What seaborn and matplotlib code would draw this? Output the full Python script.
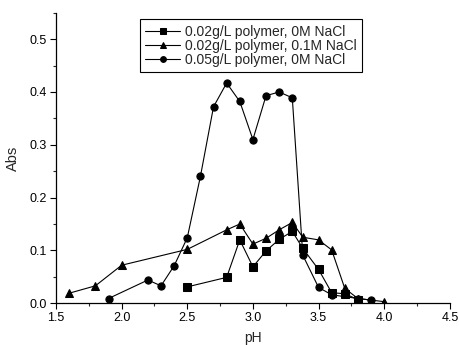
import matplotlib
matplotlib.use("Agg")
import matplotlib.pyplot as plt
import seaborn as sns
import pandas as pd
from matplotlib.ticker import MultipleLocator

sns.set_style("ticks")
plt.rcParams['font.family'] = ['Liberation Sans', 'DejaVu Sans']

labels = ["0.02g/L polymer, 0M NaCl", "0.02g/L polymer, 0.1M NaCl", "0.05g/L polymer, 0M NaCl"]

ph_sq = [2.5, 2.8, 2.9, 3.0, 3.1, 3.2, 3.3, 3.38, 3.5, 3.6, 3.7, 3.8]
abs_sq = [0.031, 0.049, 0.120, 0.069, 0.099, 0.121, 0.136, 0.104, 0.064, 0.020, 0.018, 0.007]

ph_tr = [1.6, 1.8, 2.0, 2.5, 2.8, 2.9, 3.0, 3.1, 3.2, 3.3, 3.38, 3.5, 3.6, 3.7, 3.8, 4.0]
abs_tr = [0.019, 0.033, 0.072, 0.102, 0.139, 0.150, 0.112, 0.123, 0.139, 0.153, 0.125, 0.120, 0.101, 0.028, 0.009, 0.003]

ph_ci = [1.9, 2.2, 2.3, 2.4, 2.5, 2.6, 2.7, 2.8, 2.9, 3.0, 3.1, 3.2, 3.3, 3.38, 3.5, 3.6, 3.8, 3.9]
abs_ci = [0.009, 0.044, 0.033, 0.071, 0.124, 0.240, 0.372, 0.417, 0.382, 0.310, 0.393, 0.400, 0.389, 0.091, 0.030, 0.016, 0.009, 0.006]

series = [(ph_sq, abs_sq, "s"), (ph_tr, abs_tr, "^"), (ph_ci, abs_ci, "o")]

fig = plt.figure(figsize=(4.59, 3.45), dpi=100)
ax = fig.add_axes([0.122, 0.121, 0.858, 0.842])

for (x, y, m), lab in zip(series, labels):
    df = pd.DataFrame({"pH": x, "Abs": y})
    sns.lineplot(data=df, x="pH", y="Abs", ax=ax, sort=False, color="black",
                 marker=m, markersize=5.2, markeredgecolor="black", linewidth=0.8,
                 label=lab)

ax.set_xlim(1.5, 4.5)
ax.set_ylim(0, 0.55)
ax.xaxis.set_major_locator(MultipleLocator(0.5))
ax.xaxis.set_minor_locator(MultipleLocator(0.25))
ax.yaxis.set_major_locator(MultipleLocator(0.1))
ax.yaxis.set_minor_locator(MultipleLocator(0.05))
ax.tick_params(which="major", direction="out", length=4, width=0.8, labelsize=9, colors="black", pad=2.5)
ax.tick_params(which="minor", direction="out", length=2.5, width=0.8)
for s in ["top", "right"]:
    ax.spines[s].set_visible(False)
for s in ["left", "bottom"]:
    ax.spines[s].set_color("black")
    ax.spines[s].set_linewidth(0.9)

ax.set_xlabel("pH", fontsize=10, labelpad=5)
ax.set_ylabel("Abs", fontsize=10.5, labelpad=7)

leg = ax.legend(loc="upper left", bbox_to_anchor=(0.213, 0.978), borderaxespad=0,
                fontsize=10, frameon=True, fancybox=False, edgecolor="black",
                handlelength=2.5, handletextpad=0.35, labelspacing=0.0,
                borderpad=0.4, framealpha=1, markerscale=0.8)
leg.get_frame().set_linewidth(0.8)

fig.savefig("out.png", dpi=100)
